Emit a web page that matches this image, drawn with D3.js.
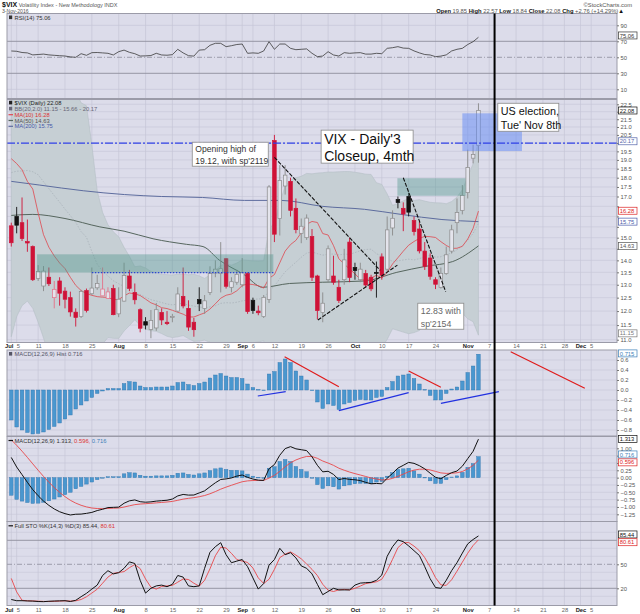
<!DOCTYPE html>
<html>
<head>
<meta charset="utf-8">
<script src="https://cdn.jsdelivr.net/npm/d3@7"></script>
<style>
  body { margin: 0; background: #fff; }
  text { font-family: "Liberation Sans", Arial, sans-serif; }
</style>
</head>
<body>
<svg id="chart" width="640" height="614"></svg>
<script>
// ---- trading days shown on the x axis (2016), incl. the empty future part ----
const julDays = [1,5,6,7,8,11,12,13,14,15,18,19,20,21,22,25,26,27,28,29];
const augDays = [1,2,3,4,5,8,9,10,11,12,15,16,17,18,19,22,23,24,25,26,29,30,31];
const sepDays = [1,2,6,7,8,9,12,13,14,15,16,19,20,21,22,23,26,27,28,29,30];
const octDays = [3,4,5,6,7,10,11,12,13,14,17,18,19,20,21,24,25,26,27,28,31];
const novDays = [1,2,3,4,7,8,9,10,11,14,15,16,17,18,21,22,23,25,28,29,30];
const decDays = [1,2,5,6,7,8,9];

const xTickDates = ['2016-07-01','2016-07-05','2016-07-11','2016-07-18','2016-07-25','2016-08-01','2016-08-08',
  '2016-08-15','2016-08-22','2016-08-29','2016-09-01','2016-09-06','2016-09-12','2016-09-19','2016-09-26',
  '2016-10-03','2016-10-10','2016-10-17','2016-10-24','2016-11-01','2016-11-07','2016-11-14','2016-11-21',
  '2016-11-28','2016-12-01','2016-12-05'];
const xTickLabels = ['Jul','5','11','18','25','Aug','8','15','22','29','Sep','6','12','19','26',
  'Oct','10','17','24','Nov','7','14','21','28','Dec','5'];
const monthNames = ['Jul','Aug','Sep','Oct','Nov','Dec'];

// ---- $VIX daily candles, Jul 1 - Nov 3 ----
const lastJuneClose = 15.63;
const opens = [15.55,16.0,15.7,14.82,14.6,13.25,12.95,13.3,12.5,13.15,
  12.75,12.5,11.96,11.8,12.77,12.65,12.88,12.57,12.47,12.85,
  11.9,12.37,13.35,12.7,12.05,11.62,11.35,11.4,11.95,11.6,
  11.8,12.0,12.55,12.1,11.6,12.43,12.1,12.7,13.47,13.45,
  14.07,12.9,13.1,13.0,13.45,12.4,12.0,11.8,12.43,20.15,
  15.9,17.55,17.8,16.4,15.2,15.0,15.05,13.35,11.95,13.2,
  13.35,12.9,13.2,14.8,13.7,13.2,13.45,13.3,13.5,14.15,
  13.63,15.45,16.85,16.4,17.0,15.8,15.4,14.4,14.1,13.2,
  12.9,13.45,14.4,15.7,16.3,17.2,19.1,19.85];
const highs = [15.7,16.47,16.95,15.85,14.65,13.8,13.76,13.7,13.15,13.3,
  12.9,12.73,12.1,12.8,12.85,13.7,13.4,13.7,12.9,13.0,
  12.9,13.9,13.6,13.05,12.1,11.78,12.04,12.3,12.1,12.0,
  11.9,12.9,13.7,12.4,11.75,12.9,12.6,13.75,14.0,14.8,
  14.1,13.3,13.6,14.1,13.5,12.5,12.2,12.6,17.6,20.5,
  18.7,18.7,18.0,16.9,15.9,16.1,15.4,13.4,12.7,14.65,
  14.2,13.2,14.5,15.0,13.9,13.9,13.6,13.4,13.95,14.3,
  16.0,16.3,17.0,16.7,17.2,16.0,15.8,14.8,14.3,13.3,
  13.7,14.6,15.6,16.9,17.6,19.6,19.9,22.57];
const lows = [14.6,15.2,14.85,14.37,13.15,13.15,12.75,12.95,12.1,12.2,
  12.1,11.8,11.45,11.75,11.95,12.6,12.8,12.55,12.45,11.85,
  11.78,12.35,12.75,12.25,11.25,11.35,11.05,11.3,11.5,11.5,
  11.6,11.95,12.1,11.3,11.1,12.0,11.9,12.6,13.3,12.7,
  12.85,12.7,13.0,12.9,11.9,11.9,11.85,11.75,12.3,14.8,
  15.1,17.1,16.0,15.2,14.75,14.9,13.15,11.7,11.6,13.1,
  13.0,12.3,13.0,13.1,13.2,13.1,12.9,12.75,12.5,13.2,
  13.5,15.1,16.4,15.3,16.0,15.1,14.3,13.6,13.2,12.83,
  12.85,13.4,14.3,15.2,16.1,16.9,18.8,18.84];
const closes = [14.77,15.58,14.96,14.76,13.20,13.54,13.55,13.04,12.82,12.67,
  12.44,11.97,11.77,12.74,12.02,12.87,13.05,12.83,12.72,11.87,
  12.44,13.37,12.86,12.42,11.39,11.50,11.66,12.05,11.68,11.55,
  11.81,12.64,12.19,11.43,11.34,12.27,12.38,13.45,13.63,13.65,
  12.94,13.12,13.42,13.48,11.98,12.02,11.94,12.51,17.50,15.16,
  17.85,18.14,16.30,15.37,15.53,15.92,13.30,12.02,12.29,14.50,
  13.10,12.39,14.02,13.29,13.57,13.63,12.99,12.84,13.48,13.38,
  15.36,15.91,16.69,16.12,16.21,15.28,14.41,13.75,13.34,13.02,
  13.46,14.24,15.36,16.19,17.06,18.56,19.32,22.08];

// ---- overlays: start of MA(10) and BB(20,2) as drawn (before their windows fill) ----
const ma10Lead = [19.07,18.79,18.44,17.80,17.39,16.17,15.14,14.57,14.19];
const bbMidLead = [18.28,18.36,18.37,18.40,18.33,18.16,17.78,17.41,17.05,16.71,16.36,16.04,15.71,15.28,15.02,14.38,13.84,13.54,13.35];
const bbUpperLead = [24.6,24.5,24.5,24.4,24.6,24.7,24.5,24.3,24.1,23.9,23.7,23.6,23.4,22.6,22.4,19.9,17.3,16.2,15.6];
const bbLowerLead = [11.1,11.8,12.2,12.37,12.1,11.6,11.06,10.5,9.98,9.49,9.03,8.52,8.06,7.96,7.63,8.82,10.36,10.86,11.07];
// MA(50) and MA(200) read at these bar positions
const ma50At = [0,4,10,16.5,21,26.4,32.6,35.7,38.8,43.4,46.8,51.8,58,65.8,71.8,77.2,82.2,87];
const ma50Vals = [16.05,16.1,15.9,15.5,15.3,14.95,14.7,14.6,14.0,13.4,12.9,13.05,13.1,13.15,13.5,13.75,13.95,14.63];
const ma200At = [0,5.3,13.4,21.1,28,35.6,43.4,50.3,57.9,65.8,72.6,80.2,87];
const ma200Vals = [17.8,17.6,17.3,17.1,17.0,16.95,16.8,16.8,16.5,16.35,16.1,15.85,15.75];

// ---- RSI(14) ----
const rsi = [57.9,57.5,56,55.5,53,53.5,54,53,52.5,52,
  51.6,50.5,50,54.5,52.5,55.8,56,55.5,55,52.9,
  57,59,56.2,54.5,51.6,51.8,52.2,55,52.9,52.6,
  53.3,60,55.5,52,51.5,59,59.5,65,67.5,67.5,
  63.3,64.5,66,66.6,55,55.5,55,57.9,69.5,60,
  66.6,66.6,61.2,59.5,60,60.5,55,50.8,51.6,57,
  52.9,51.6,55.8,55,55.5,55.8,54,54,55,54.5,
  61.2,62,63.3,61.5,61.2,58,55.5,53.5,52.9,50.8,
  51.5,53,57.9,60,61.2,66,69.5,75.06];

// ---- MACD(12,26,9) histogram; signal starts at signalStart ----
const macdHist = [-0.60,-0.74,-0.80,-0.85,-0.88,-0.87,-0.84,-0.79,-0.73,-0.66,
  -0.58,-0.50,-0.38,-0.30,-0.22,-0.15,-0.07,-0.02,0.03,0.03,
  0.03,0.13,0.17,0.16,0.08,0.05,0.05,0.06,0.06,0.06,
  0.08,0.15,0.16,0.11,0.09,0.13,0.16,0.24,0.30,0.33,
  0.28,0.25,0.25,0.23,0.12,0.05,0.01,0.00,0.32,0.37,
  0.55,0.62,0.55,0.38,0.28,0.20,-0.01,-0.24,-0.37,-0.28,
  -0.31,-0.39,-0.28,-0.25,-0.21,-0.19,-0.20,-0.20,-0.15,-0.13,
  0.05,0.17,0.28,0.30,0.32,0.23,0.12,0.01,-0.11,-0.20,
  -0.20,-0.07,0.02,0.06,0.18,0.35,0.48,0.716];
const signalStart = 1.287;

// ---- Full STO %K(14,3) %D(3) ----
const stoKPrior = [55, 36];
const stoK = [6,4.5,4.5,4.2,4,3.5,3.3,3.8,4.1,4.3,
  4.5,3.5,5,9.5,13.7,19,24,36,42,38,
  39.5,45,53,51,30,14,20,23,24,22,
  25,36,34,23,22,23,45,65,72,77,
  62,52,54,56,47,33,19,26,49,56,
  70,62,64.5,58,48,45,38,25,12,16,
  20,18,18,18,24,26.5,27,27.4,30,36.6,
  60,72,80.4,78.3,73,67,61,47,32,21,
  20,30,42,52,64,75.5,81,85.44];

// ---- axis tick values ----
const rsiTicks = [10,30,50,70,90];
const mainTicks = [11.0,11.5,12.0,12.5,13.0,13.5,14.0,14.5,15.0,15.5,16.0,16.5,17.0,17.5,18.0,18.5,19.0,19.5,20.0,20.5,21.0,21.5,22.0,22.5];
const histTicks = [-0.8,-0.6,-0.4,-0.2,0.0,0.2,0.4,0.6];
const macdTicks = [-1.25,-1.0,-0.75,-0.5,-0.25,0.0,0.25,0.5,0.75,1.0];
const stoTicks = [20,50];

// ---- annotations drawn on the chart (bar index, value) ----
const zoneRects = [
  {i0: 4.8, i1: 48.8, v0: 14.26, v1: 13.49, fill: 'rgba(80,150,140,0.42)'},
  {i0: 71.9, i1: 84.6, v0: 17.97, v1: 17.04, fill: 'rgba(80,150,140,0.42)'},
  {i0: 84.0, i1: 95.1, v0: 21.89, v1: 19.52, fill: 'rgba(95,135,245,0.5)'}
];
const trendLines = [
  {i0: 49.0, v0: 19.15, i1: 68.7, v1: 13.58},
  {i0: 57.1, v0: 11.68, i1: 71.9, v1: 13.8},
  {i0: 73.0, v0: 18.0, i1: 80.9, v1: 12.73}
];
const histLines = [
  {i0: 50.9, v0: 0.666, i1: 61.0, v1: 0.066, c: '#e01b1b'},
  {i0: 74.0, v0: 0.38, i1: 80.0, v1: 0.054, c: '#e01b1b'},
  {i0: 93.0, v0: 0.766, i1: 106.8, v1: 0.034, c: '#e01b1b'},
  {i0: 45.9, v0: -0.12, i1: 51.1, v1: -0.034, c: '#2231e0'},
  {i0: 61.0, v0: -0.414, i1: 74.0, v1: -0.054, c: '#2231e0'},
  {i0: 80.0, v0: -0.266, i1: 90.8, v1: -0.034, c: '#2231e0'}
];
const notes = [
  {lines: ['Opening high of', "19.12, with sp'2119"], i: 33.7, v: 20.05, w: 76, h: 24, size: 8.6, color: '#333'},
  {lines: ["VIX - Daily'3", 'Closeup, 4mth'], i: 57.7, v: 20.8, w: 92, h: 33, size: 14, color: '#111'},
  {lines: ['US election,', "Tue' Nov 8th"], i: 90.6, v: 22.57, w: 61, h: 28, size: 10.8, color: '#111'},
  {lines: ['12.83 with', "sp'2154"], i: 75.7, v: 12.29, w: 46, h: 26, size: 8.8, color: '#666'}
];
const levelLine = 20.0;
const electionDay = '2016-11-08';

// ================= drawing =================
const svg = d3.select('#chart');
const plotL = 7, plotR = 617;
const bg = '#dcdcea', gridCol = '#c6c6d7', frameCol = '#9b9ba8';
const fontSm = 5.8;

const panels = {
  rsi:  {top: 13.5, bottom: 98.5},
  main: {top: 99.5, bottom: 342.5},
  hist: {top: 350, bottom: 436},
  macd: {top: 436.5, bottom: 521.5},
  sto:  {top: 521.5, bottom: 605.5}
};

const fmtKey = d3.timeFormat('%Y-%m-%d');
const dates = [];
[[6, julDays], [7, augDays], [8, sepDays], [9, octDays], [10, novDays], [11, decDays]]
  .forEach(([m, days]) => days.forEach(d => dates.push(fmtKey(new Date(2016, m, d)))));

const x = d3.scalePoint().domain(dates).range([plotL, plotR]).padding(0.8);
const xi = f => x(dates[0]) + f * x.step();
const xb = i => x(dates[i]);

const yRsi = d3.scaleLinear().domain([0, 100]).range([97.3, 17.3]);
const yMain = d3.scaleLog().domain([10.907, 22.83]).range([342.5, 99.5]);
const yHist = d3.scaleLinear().domain([-0.8, 0.6]).range([430, 360]);
const yMacd = d3.scaleLinear().domain([-1.25, 1.0]).range([514.3, 448.3]);
const ySto = d3.scaleLinear().domain([20, 50]).range([588.3, 564.3]);

const defs = svg.append('defs');
Object.entries(panels).forEach(([k, p]) => {
  defs.append('clipPath').attr('id', 'clip-' + k).append('rect')
    .attr('x', plotL).attr('y', p.top).attr('width', plotR - plotL).attr('height', p.bottom - p.top);
  svg.append('rect').attr('x', plotL).attr('y', p.top)
    .attr('width', plotR - plotL).attr('height', p.bottom - p.top).attr('fill', bg);
});

// vertical grid
Object.values(panels).forEach(p => {
  svg.append('g').selectAll('line').data(xTickDates).join('line')
    .attr('x1', d => x(d)).attr('x2', d => x(d))
    .attr('y1', p.top).attr('y2', p.bottom)
    .attr('stroke', gridCol).attr('stroke-width', 0.7);
});

function hGrid(scale, vals, color, width, dash) {
  svg.append('g').selectAll('line').data(vals).join('line')
    .attr('x1', plotL).attr('x2', plotR)
    .attr('y1', d => scale(d)).attr('y2', d => scale(d))
    .attr('stroke', color).attr('stroke-width', width)
    .attr('stroke-dasharray', dash || null);
}
hGrid(yRsi, [10, 90], gridCol, 0.7);
hGrid(yRsi, [30, 70], '#8e8e9c', 0.9);
hGrid(yRsi, [50], '#8e8e9c', 0.8, '5,2,1,2');
hGrid(yMain, mainTicks, gridCol, 0.6);
hGrid(yHist, histTicks, gridCol, 0.6);
hGrid(yMacd, macdTicks, gridCol, 0.6);
hGrid(ySto, [10, 30, 40, 60, 70, 90], gridCol, 0.6);
hGrid(ySto, [20, 80], '#8e8e9c', 0.9);
hGrid(ySto, [50], '#8e8e9c', 0.8, '5,2,1,2');

// ---------- RSI ----------
const gRsi = svg.append('g').attr('clip-path', 'url(#clip-rsi)');
gRsi.append('path').datum(rsi)
  .attr('d', d3.line().x((d, i) => xb(i)).y(d => yRsi(d)))
  .attr('fill', 'none').attr('stroke', '#3a3a3a').attr('stroke-width', 0.8);

// ---------- main price panel ----------
const ma10 = closes.map((c, i) => i < 9 ? ma10Lead[i] : d3.mean(closes.slice(i - 9, i + 1)));
const bb = closes.map((c, i) => {
  if (i < 19) return {mid: bbMidLead[i], up: bbUpperLead[i], lo: bbLowerLead[i]};
  const w = closes.slice(i - 19, i + 1), m = d3.mean(w);
  const sd = Math.sqrt(d3.mean(w, v => (v - m) ** 2));
  return {mid: m, up: m + 2 * sd, lo: m - 2 * sd};
});

const gMain = svg.append('g').attr('clip-path', 'url(#clip-main)');
gMain.append('path').datum(bb)
  .attr('d', d3.area().x((d, i) => xb(i)).y0(d => yMain(d.lo)).y1(d => yMain(d.up)))
  .attr('fill', '#c6cfd4').attr('stroke', '#b6c0c6').attr('stroke-width', 0.6);
gMain.append('path').datum(bb)
  .attr('d', d3.line().x((d, i) => xb(i)).y(d => yMain(d.mid)))
  .attr('fill', 'none').attr('stroke', '#a9b2ba').attr('stroke-width', 0.8).attr('stroke-dasharray', '1.5,1.5');

const sampled = (at, vals) => at.map((a, k) => ({i: a, v: vals[k]}));
gMain.append('path').datum(sampled(ma200At, ma200Vals))
  .attr('d', d3.line().x(d => xi(d.i)).y(d => yMain(d.v)).curve(d3.curveMonotoneX))
  .attr('fill', 'none').attr('stroke', '#5d6c9e').attr('stroke-width', 1);
gMain.append('path').datum(sampled(ma50At, ma50Vals))
  .attr('d', d3.line().x(d => xi(d.i)).y(d => yMain(d.v)).curve(d3.curveMonotoneX))
  .attr('fill', 'none').attr('stroke', '#56665e').attr('stroke-width', 1);
gMain.append('path').datum(ma10)
  .attr('d', d3.line().x((d, i) => xb(i)).y(d => yMain(d)))
  .attr('fill', 'none').attr('stroke', '#e0484f').attr('stroke-width', 0.8);

// candles
const candles = closes.map((c, i) => ({i, o: opens[i], h: highs[i], l: lows[i], c, pc: i ? closes[i - 1] : lastJuneClose}));
const isUp = d => d.c >= d.pc;
const isFilled = d => d.c < d.o;
const candleCol = d => isUp(d) ? (isFilled(d) ? '#111111' : '#8a8a8a') : (isFilled(d) ? '#cf1237' : '#e47088');
const bw = 3.6;
const topV = d => Math.max(d.o, d.c), botV = d => Math.min(d.o, d.c);
gMain.append('g').selectAll('line').data(candles).join('line')
  .attr('x1', d => xb(d.i)).attr('x2', d => xb(d.i))
  .attr('y1', d => yMain(d.h)).attr('y2', d => yMain(topV(d)))
  .attr('stroke', candleCol).attr('stroke-width', 0.9);
gMain.append('g').selectAll('line').data(candles).join('line')
  .attr('x1', d => xb(d.i)).attr('x2', d => xb(d.i))
  .attr('y1', d => yMain(botV(d))).attr('y2', d => yMain(d.l))
  .attr('stroke', candleCol).attr('stroke-width', 0.9);
gMain.append('g').selectAll('rect').data(candles).join('rect')
  .attr('x', d => xb(d.i) - bw / 2).attr('width', bw)
  .attr('y', d => yMain(topV(d)))
  .attr('height', d => Math.max(1, yMain(botV(d)) - yMain(topV(d))))
  .attr('fill', d => isFilled(d) ? candleCol(d) : '#e4e4ec')
  .attr('stroke', candleCol).attr('stroke-width', 0.7);

// zones, level line, trend lines
gMain.append('g').selectAll('rect').data(zoneRects).join('rect')
  .attr('x', d => xi(d.i0)).attr('width', d => xi(d.i1) - xi(d.i0))
  .attr('y', d => yMain(d.v0)).attr('height', d => yMain(d.v1) - yMain(d.v0))
  .attr('fill', d => d.fill);
gMain.append('line')
  .attr('x1', xi(15)).attr('x2', xi(zoneRects[0].i1))
  .attr('y1', yMain(zoneRects[0].v1)).attr('y2', yMain(zoneRects[0].v1))
  .attr('stroke', '#2a45d0').attr('stroke-width', 1.3).attr('stroke-dasharray', '1.5,1.5');
gMain.append('line')
  .attr('x1', plotL).attr('x2', plotR).attr('y1', yMain(levelLine)).attr('y2', yMain(levelLine))
  .attr('stroke', '#3041e8').attr('stroke-width', 1.2).attr('stroke-dasharray', '8,2,2,2');
gMain.append('g').selectAll('line').data(trendLines).join('line')
  .attr('x1', d => xi(d.i0)).attr('y1', d => yMain(d.v0))
  .attr('x2', d => xi(d.i1)).attr('y2', d => yMain(d.v1))
  .attr('stroke', '#111').attr('stroke-width', 1.1).attr('stroke-dasharray', '4,1.5');

// note boxes
notes.forEach(n => {
  const left = xi(n.i), top = yMain(n.v);
  const g = svg.append('g');
  g.append('rect').attr('x', left).attr('y', top).attr('width', n.w).attr('height', n.h)
    .attr('fill', '#fff').attr('stroke', '#8a8a8a').attr('stroke-width', 0.8);
  const lh = n.h / 2;
  n.lines.forEach((t, k) => {
    g.append('text').attr('x', left + 3).attr('y', top + lh * k + lh * 0.5 + n.size * 0.36 + 1)
      .attr('font-size', n.size).attr('fill', n.color).text(t);
  });
});

// ---------- MACD histogram panel ----------
const gHist = svg.append('g').attr('clip-path', 'url(#clip-hist)');
const hbw = 3.6;
gHist.append('g').selectAll('rect').data(macdHist).join('rect')
  .attr('x', (d, i) => xb(i) - hbw / 2).attr('width', hbw)
  .attr('y', d => Math.min(yHist(d), yHist(0)))
  .attr('height', d => Math.max(0.6, Math.abs(yHist(d) - yHist(0))))
  .attr('fill', '#4a97cf').attr('stroke', '#2f74ad').attr('stroke-width', 0.4);
gHist.append('g').selectAll('line').data(histLines).join('line')
  .attr('x1', d => xi(d.i0)).attr('y1', d => yHist(d.v0))
  .attr('x2', d => xi(d.i1)).attr('y2', d => yHist(d.v1))
  .attr('stroke', d => d.c).attr('stroke-width', 1.2);

// ---------- MACD lines panel ----------
const signal = [], macd = [];
macdHist.forEach((h, i) => {
  signal.push(i ? signal[i - 1] + h / 4 : signalStart);
  macd.push(signal[i] + h);
});
const gMacd = svg.append('g').attr('clip-path', 'url(#clip-macd)');
gMacd.append('g').selectAll('rect').data(macdHist).join('rect')
  .attr('x', (d, i) => xb(i) - hbw / 2).attr('width', hbw)
  .attr('y', d => Math.min(yMacd(d), yMacd(0)))
  .attr('height', d => Math.max(0.6, Math.abs(yMacd(d) - yMacd(0))))
  .attr('fill', '#4a97cf').attr('stroke', '#2f74ad').attr('stroke-width', 0.4);
gMacd.append('path').datum(signal)
  .attr('d', d3.line().x((d, i) => xb(i)).y(d => yMacd(d)))
  .attr('fill', 'none').attr('stroke', '#e8474a').attr('stroke-width', 0.9);
gMacd.append('path').datum(macd)
  .attr('d', d3.line().x((d, i) => xb(i)).y(d => yMacd(d)))
  .attr('fill', 'none').attr('stroke', '#111').attr('stroke-width', 1);

// ---------- STO panel ----------
const kAll = stoKPrior.concat(stoK);
const stoD = stoK.map((k, i) => d3.mean(kAll.slice(i, i + 3)));
const gSto = svg.append('g').attr('clip-path', 'url(#clip-sto)');
gSto.append('path').datum(stoD)
  .attr('d', d3.line().x((d, i) => xb(i)).y(d => ySto(d)))
  .attr('fill', 'none').attr('stroke', '#e8474a').attr('stroke-width', 0.9);
gSto.append('path').datum(stoK)
  .attr('d', d3.line().x((d, i) => xb(i)).y(d => ySto(d)))
  .attr('fill', 'none').attr('stroke', '#111').attr('stroke-width', 1);

// panel frames
Object.values(panels).forEach(p => {
  svg.append('rect').attr('x', plotL).attr('y', p.top)
    .attr('width', plotR - plotL).attr('height', p.bottom - p.top)
    .attr('fill', 'none').attr('stroke', frameCol).attr('stroke-width', 1);
});

// election marker
svg.append('line')
  .attr('x1', x(electionDay)).attr('x2', x(electionDay))
  .attr('y1', panels.rsi.top).attr('y2', panels.sto.bottom)
  .attr('stroke', '#000').attr('stroke-width', 2);

// ---------- right axes with last-value boxes ----------
// each box: [value y, label, colour, small nudge so stacked boxes stay readable]
const boxes = [
  [yRsi(75.06), '75.06', '#333', -1.8],
  [yMain(22.08), '22.08', '#111', 0],
  [yMain(bb[87].up), d3.format('.2f')(bb[87].up), '#5566aa', 1],
  [yMain(16.28), '16.28', '#d22', 0],
  [yMain(15.75), '15.75', '#4a5aa8', 0],
  [yMain(14.63), '14.63', '#555', 0],
  [yMain(bb[87].lo), d3.format('.2f')(bb[87].lo), '#777', -1.8],
  [yHist(0.716), '0.715', '#3d7fb8', -0.8],
  [yMacd(macd[87]), '1.313', '#111', 0],
  [yMacd(0.716), '0.716', '#3d7fb8', -2.2],
  [yMacd(signal[87]), '0.596', '#d22', 2.2],
  [ySto(85.44), '85.44', '#111', -1.5],
  [ySto(80.61), '80.61', '#d22', 2.4]
];
const boxCentres = boxes.map(b => b[0] + b[3]);

function rightAxis(scale, ticks, fmt) {
  const g = svg.append('g').attr('transform', `translate(${plotR},0)`)
    .attr('font-family', '"Liberation Sans", Arial, sans-serif')
    .call(d3.axisRight(scale).tickValues(ticks).tickFormat(fmt).tickSize(2).tickPadding(1.5));
  g.select('.domain').remove();
  g.attr('font-size', fontSm).attr('color', '#555');
  g.selectAll('line').attr('stroke', '#777');
  // labels sitting under a value box are covered in the original
  g.selectAll('.tick').each(function(d) {
    const ty = scale(d);
    if (boxCentres.some(c => Math.abs(c - ty) < 5.6)) d3.select(this).select('text').remove();
  });
}
rightAxis(yRsi, rsiTicks, d3.format('d'));
rightAxis(yMain, mainTicks, d3.format('.1f'));
rightAxis(yHist, histTicks, d3.format('.1f'));
rightAxis(yMacd, macdTicks, d3.format('.2f'));
rightAxis(ySto, stoTicks, d3.format('d'));

boxes.forEach(([yv, txt, color, nudge]) => {
  const yc = yv + nudge;
  const g = svg.append('g');
  g.append('rect').attr('x', plotR + 1.5).attr('y', yc - 3.5).attr('width', 18.5).attr('height', 7)
    .attr('fill', '#fff').attr('stroke', color).attr('stroke-width', 0.7);
  g.append('text').attr('x', plotR + 2.8).attr('y', yc + 2.1)
    .attr('font-size', fontSm).attr('fill', color).text(txt);
});

// ---------- x axes ----------
function dateAxis(yPos) {
  const g = svg.append('g').attr('transform', `translate(0,${yPos})`)
    .attr('font-family', '"Liberation Sans", Arial, sans-serif')
    .call(d3.axisBottom(x).tickValues(xTickDates).tickFormat((d, k) => xTickLabels[k]).tickSize(0).tickPadding(0));
  g.select('.domain').remove();
  g.attr('font-size', fontSm);
  const isMonth = d => monthNames.includes(xTickLabels[xTickDates.indexOf(d)]);
  g.selectAll('text')
    .attr('fill', d => isMonth(d) ? '#222' : '#666')
    .attr('font-weight', d => isMonth(d) ? 'bold' : 'normal')
    .attr('dy', '0.35em')
    .attr('dx', d => d === xTickDates[0] ? -2.6 : (d === xTickDates[1] ? 1.2 : 0));
}
dateAxis(346.2);
dateAxis(609.8);

// ---------- header and legends ----------
const t1 = svg.append('text').attr('x', 2).attr('y', 6.6);
t1.append('tspan').attr('font-size', 7).attr('font-weight', 'bold').attr('fill', '#111').text('$VIX');
t1.append('tspan').attr('font-size', 5.5).attr('fill', '#555').text(' Volatility Index - New Methodology  INDX');
svg.append('text').attr('x', 632).attr('y', 6.6).attr('text-anchor', 'end')
  .attr('font-size', 5.8).attr('fill', '#555').text('\u00A9StockCharts.com');
svg.append('text').attr('x', 2).attr('y', 12.9).attr('font-size', 5.1).attr('fill', '#555').text('3-Nov-2016');
const t2 = svg.append('text').attr('x', 624).attr('y', 12.7).attr('text-anchor', 'end').attr('font-size', 5.8).attr('fill', '#555');
[['Open', ' 19.85 '], ['High', ' 22.57 '], ['Low', ' 18.84 '], ['Close', ' 22.08 '], ['Chg', ' +2.76 (+14.29%)']]
  .forEach(([k, v]) => {
    t2.append('tspan').attr('font-weight', 'bold').attr('fill', '#111').text(k);
    t2.append('tspan').text(v);
  });
t2.append('tspan').attr('fill', '#111').text('\u25B2');

function legend(yPos, parts, mark) {
  if (mark === 'box') {
    svg.append('rect').attr('x', 9).attr('y', yPos - 4).attr('width', 3.2).attr('height', 3.6).attr('fill', parts[0][1]);
  } else if (mark) {
    svg.append('line').attr('x1', 8.5).attr('x2', 13).attr('y1', yPos - 2).attr('y2', yPos - 2)
      .attr('stroke', mark).attr('stroke-width', 1.2);
  }
  const t = svg.append('text').attr('x', 14.5).attr('y', yPos).attr('font-size', fontSm);
  parts.forEach(([s, c]) => t.append('tspan').attr('fill', c).text(s));
}
legend(19.5, [['RSI(14) 75.06', '#333']], 'box');
legend(104.8, [['$VIX (Daily) 22.08', '#222']], 'box');
legend(110.8, [['BB(20,2.0) ' + d3.format('.2f')(bb[87].lo) + ' - ' + d3.format('.2f')(bb[87].mid) + ' - ' + d3.format('.2f')(bb[87].up), '#667']], 'box');
legend(116.7, [['MA(10) 16.28', '#d33']], '#e0484f');
legend(122.5, [['MA(50) 14.63', '#555']], '#56665e');
legend(128.3, [['MA(200) 15.75', '#4a5aa8']], '#5d6c9e');
legend(356, [['MACD(12,26,9) Hist 0.716', '#556']], 'box');
legend(442.5, [['MACD(12,26,9) 1.313, ', '#333'], ['0.596, ', '#d33'], ['0.716', '#3d7fb8']], '#111');
legend(527.8, [['Full STO %K(14,3) %D(3) 85.44, ', '#333'], ['80.61', '#d33']], '#111');
</script>
</body>
</html>
